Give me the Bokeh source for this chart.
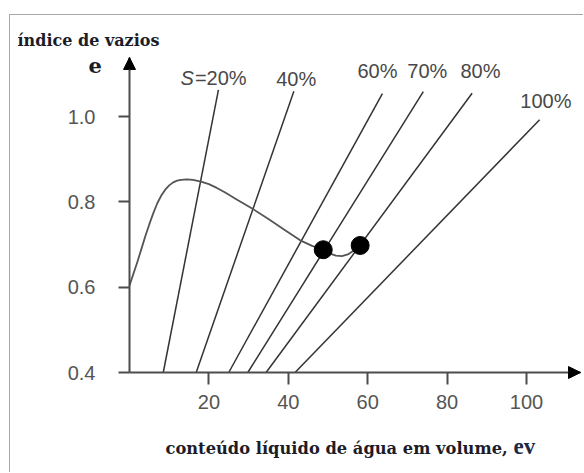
from bokeh.plotting import figure
from bokeh.models import (Range1d, FixedTicker, PrintfTickFormatter, Arrow,
                          NormalHead, Label, ColumnDataSource)
from bokeh.core.properties import value
from bokeh.embed import file_html
from bokeh.resources import INLINE

# Saturation lines: ev where each line meets e = 0.4, and its upper end point
sat_text = ["=20%", "40%", "60%", "70%", "80%", "100%"]
sat_ev_base = [8.5, 16.8, 25.0, 29.8, 34.4, 41.7]
sat_ev_top = [22.4, 41.4, 63.7, 74.0, 86.3, 103.3]
sat_e_top = [1.063, 1.060, 1.054, 1.059, 1.055, 0.993]

# Void ratio path versus volumetric water content
curve_ev = [0.0, 1.0, 2.0, 3.0, 4.0, 5.0, 6.0, 7.0, 8.0, 9.0, 10.0, 11.0,
            12.0, 13.0, 14.5, 16.0, 18.0, 20.0, 22.0, 24.0, 27.0, 31.0,
            35.0, 39.0, 43.0, 46.0, 48.8, 50.5, 52.0, 53.5, 55.0, 56.5, 58.1]
curve_e = [0.604, 0.632, 0.660, 0.690, 0.720, 0.748, 0.774, 0.797, 0.815,
           0.829, 0.839, 0.846, 0.850, 0.852, 0.853, 0.852, 0.848, 0.842,
           0.833, 0.823, 0.806, 0.784, 0.760, 0.735, 0.710, 0.697, 0.688,
           0.679, 0.674, 0.673, 0.677, 0.686, 0.698]

# Marked states
point_ev = [48.8, 58.1]
point_e = [0.688, 0.698]

x_ticks = [20, 40, 60, 80, 100]
y_ticks = [0.4, 0.6, 0.8, 1.0]

# extent of the two drawn axes (arrow tips)
X_MAX = 113.6
E_MIN, E_MAX = 0.4, 1.139

# page geometry: canvas offset by the frame border, axes origin and arrow tips
PAGE_W, PAGE_H = 584, 473
OFF_X, OFF_Y = 10, 15
AX_L, AX_R, AX_T, AX_B = 129, 580, 57, 372
W, H = PAGE_W - OFF_X, PAGE_H - OFF_Y
PX_X = (AX_R - AX_L) / X_MAX
PX_E = (AX_B - AX_T) / (E_MAX - E_MIN)


def dx(px):
    return (px - AX_L) / PX_X


def dy(py):
    return E_MIN + (AX_B - py) / PX_E


p = figure(width=W, height=H, output_backend="svg", toolbar_location=None,
           x_range=Range1d(dx(OFF_X), dx(PAGE_W)),
           y_range=Range1d(dy(PAGE_H), dy(OFF_Y)),
           min_border=0)
p.styles = {"margin-left": "9px", "margin-top": "14px",
            "border-left": "1px solid #a8a8a8",
            "border-top": "1px solid #a8a8a8"}
p.grid.visible = False
p.outline_line_color = None
p.background_fill_color = "white"
p.border_fill_color = "white"

AX_COLOR = "#4d4d4d"
for ax in (p.xaxis[0], p.yaxis[0]):
    ax.axis_line_color = AX_COLOR
    ax.axis_line_width = 2
    ax.major_tick_line_color = AX_COLOR
    ax.major_tick_line_width = 2
    ax.major_tick_in = 0
    ax.minor_tick_line_color = None
    ax.major_label_text_font = "Liberation Sans"
    ax.major_label_text_font_size = "20px"
    ax.major_label_text_color = "#555555"

p.xaxis.fixed_location = E_MIN
p.xaxis.bounds = (0, X_MAX)
p.xaxis.ticker = FixedTicker(ticks=x_ticks, minor_ticks=[])
p.xaxis.major_tick_out = 12
p.xaxis.major_label_standoff = 10

p.yaxis.fixed_location = 0
p.yaxis.bounds = (E_MIN, E_MAX)
p.yaxis.ticker = FixedTicker(ticks=y_ticks, minor_ticks=[])
p.yaxis.formatter = PrintfTickFormatter(format="%.1f")
p.yaxis.major_tick_out = 11
p.yaxis.major_label_standoff = 23

# arrow heads on both axes
p.add_layout(Arrow(end=NormalHead(size=12, fill_color="black", line_color="black"),
                   x_start=0, y_start=E_MAX - 0.03, x_end=0, y_end=E_MAX,
                   line_color=AX_COLOR, line_width=2))
p.add_layout(Arrow(end=NormalHead(size=12, fill_color="black", line_color="black"),
                   x_start=X_MAX - 3, y_start=E_MIN, x_end=X_MAX, y_end=E_MIN,
                   line_color=AX_COLOR, line_width=2))

# saturation lines
p.segment(x0=sat_ev_base, y0=[E_MIN] * len(sat_ev_base), x1=sat_ev_top,
          y1=sat_e_top, line_color="#333333", line_width=1.5)

lab_src = ColumnDataSource(dict(
    x=sat_ev_top, y=sat_e_top, text=sat_text,
    xo=[-23.5, -17.7, -25, -16, -11.7, -19.3],
    yo=[-11.5, -12.5, -22.7, -20.7, -22.3, -19]))
p.text(x="x", y="y", text="text", x_offset="xo", y_offset="yo", source=lab_src,
       text_font=value("Liberation Sans"), text_font_size="20px",
       text_color="#484848", text_align="left", text_baseline="middle")
p.add_layout(Label(x=dx(180), y=dy(77.5), text="S",
                   text_font="Liberation Sans", text_font_style="italic",
                   text_font_size="20px", text_color="#484848",
                   text_baseline="middle"))

# path and marked states
p.line(curve_ev, curve_e, line_color="#555555", line_width=1.8,
       line_join="round")
p.scatter(point_ev, point_e, size=18, fill_color="black", line_color="black")

# axis titles
TITLE_COLOR = "#1c1c28"
p.add_layout(Label(x=dx(17), y=dy(40), text="índice de vazios",
                   text_font="DejaVu Serif", text_font_style="bold",
                   text_font_size="16px", text_color=TITLE_COLOR,
                   text_baseline="middle"))
p.add_layout(Label(x=dx(88), y=dy(65), text="e",
                   text_font="DejaVu Serif", text_font_style="bold",
                   text_font_size="21px", text_color=TITLE_COLOR,
                   text_baseline="middle"))
p.add_layout(Label(x=dx(165), y=dy(448),
                   text="conteúdo líquido de água em volume,",
                   text_font="DejaVu Serif", text_font_style="bold",
                   text_font_size="16.3px", text_color=TITLE_COLOR,
                   text_baseline="middle"))
p.add_layout(Label(x=dx(513), y=dy(446), text="ev",
                   text_font="Liberation Serif", text_font_style="bold",
                   text_font_size="23px", text_color="#1e2a44",
                   text_baseline="middle"))

open("out.html", "w").write(file_html(p, INLINE))
